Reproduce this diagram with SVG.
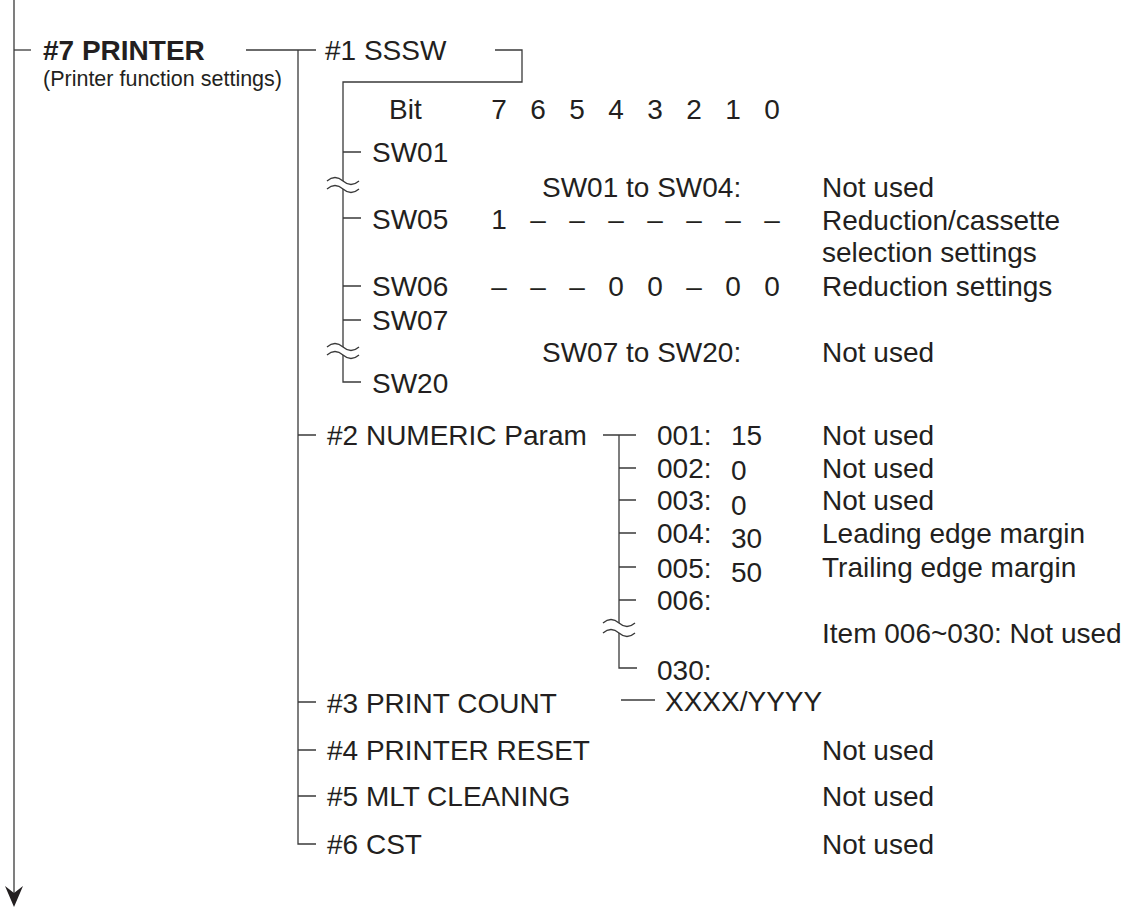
<svg xmlns="http://www.w3.org/2000/svg" width="1140" height="911" viewBox="0 0 1140 911">
<style>
text{font-family:"Liberation Sans",Arial,sans-serif;font-size:28px;fill:#231f20}
.b{font-weight:bold}
.s{font-size:21.5px}
.m{text-anchor:middle}
.ln{fill:none;stroke:#3a3a3a;stroke-width:1.3}
</style>
<rect width="1140" height="911" fill="#fff"/>
<g id="connectors" class="ln">
<path d="M14,0 V893"/>
<path d="M14,50 H31"/>
<path d="M246,50 H316"/>
<path d="M298,50 V844 H316"/>
<path d="M495,50 H522 V82 H343 V181"/>
<path d="M343,189 V347"/>
<path d="M343,355 V382 H361"/>
<path d="M343,152 H361 M343,218 H361 M343,286 H361 M343,320 H361"/>
<path d="M327,181 Q335,174 343,181 T359,181 M327,189 Q335,182 343,189 T359,189"/>
<path d="M327,347 Q335,340 343,347 T359,347 M327,355 Q335,348 343,355 T359,355"/>
<path d="M298,435 H316 M298,702 H316 M298,750 H316 M298,796 H316"/>
<path d="M603,435 H636 M619,435 V623"/>
<path d="M619,633 V668 H637"/>
<path d="M619,468 H636 M619,500 H636 M619,533 H636 M619,567 H636 M619,600 H636"/>
<path d="M603,623 Q611,616 619,623 T635,623 M603,633 Q611,626 619,633 T635,633"/>
<path d="M621,700 H655"/>
</g>
<polygon points="14,907 5,886 14,893 23,886" fill="#231f20"/>
<g id="printer">
<text class="b" x="43" y="60">#7 PRINTER</text>
<text class="s" x="43" y="86">(Printer function settings)</text>
</g>
<g id="sssw">
<text x="325" y="60">#1 SSSW</text>
<text x="389" y="119">Bit</text>
<text class="m" x="499" y="119">7</text><text class="m" x="538" y="119">6</text><text class="m" x="577" y="119">5</text><text class="m" x="616" y="119">4</text><text class="m" x="655" y="119">3</text><text class="m" x="694" y="119">2</text><text class="m" x="733" y="119">1</text><text class="m" x="772" y="119">0</text>
<text x="372" y="162">SW01</text>
<text x="542" y="197">SW01 to SW04:</text>
<text x="822" y="197">Not used</text>
<text x="372" y="229">SW05</text>
<text class="m" x="499" y="229">1</text><text class="m" x="538" y="229">–</text><text class="m" x="577" y="229">–</text><text class="m" x="616" y="229">–</text><text class="m" x="655" y="229">–</text><text class="m" x="694" y="229">–</text><text class="m" x="733" y="229">–</text><text class="m" x="772" y="229">–</text>
<text x="822" y="230">Reduction/cassette</text>
<text x="822" y="262">selection settings</text>
<text x="372" y="296">SW06</text>
<text class="m" x="499" y="296">–</text><text class="m" x="538" y="296">–</text><text class="m" x="577" y="296">–</text><text class="m" x="616" y="296">0</text><text class="m" x="655" y="296">0</text><text class="m" x="694" y="296">–</text><text class="m" x="733" y="296">0</text><text class="m" x="772" y="296">0</text>
<text x="822" y="296">Reduction settings</text>
<text x="372" y="330">SW07</text>
<text x="542" y="362">SW07 to SW20:</text>
<text x="822" y="362">Not used</text>
<text x="372" y="393">SW20</text>
</g>
<g id="numeric">
<text x="327" y="445">#2 NUMERIC Param</text>
<text x="657" y="445">001:</text><text x="731" y="445">15</text><text x="822" y="445">Not used</text>
<text x="657" y="478">002:</text><text x="731" y="480">0</text><text x="822" y="478">Not used</text>
<text x="657" y="510">003:</text><text x="731" y="515">0</text><text x="822" y="510">Not used</text>
<text x="657" y="543">004:</text><text x="731" y="548">30</text><text x="822" y="543">Leading edge margin</text>
<text x="657" y="578">005:</text><text x="731" y="582">50</text><text x="822" y="577">Trailing edge margin</text>
<text x="657" y="610">006:</text>
<text x="822" y="643">Item 006~030: Not used</text>
<text x="657" y="680">030:</text>
</g>
<g id="count">
<text x="327" y="713">#3 PRINT COUNT</text>
<text x="665" y="711">XXXX/YYYY</text>
</g>
<g id="reset">
<text x="327" y="760">#4 PRINTER RESET</text>
<text x="822" y="760">Not used</text>
</g>
<g id="mlt">
<text x="327" y="806">#5 MLT CLEANING</text>
<text x="822" y="806">Not used</text>
</g>
<g id="cst">
<text x="327" y="854">#6 CST</text>
<text x="822" y="854">Not used</text>
</g>
</svg>
